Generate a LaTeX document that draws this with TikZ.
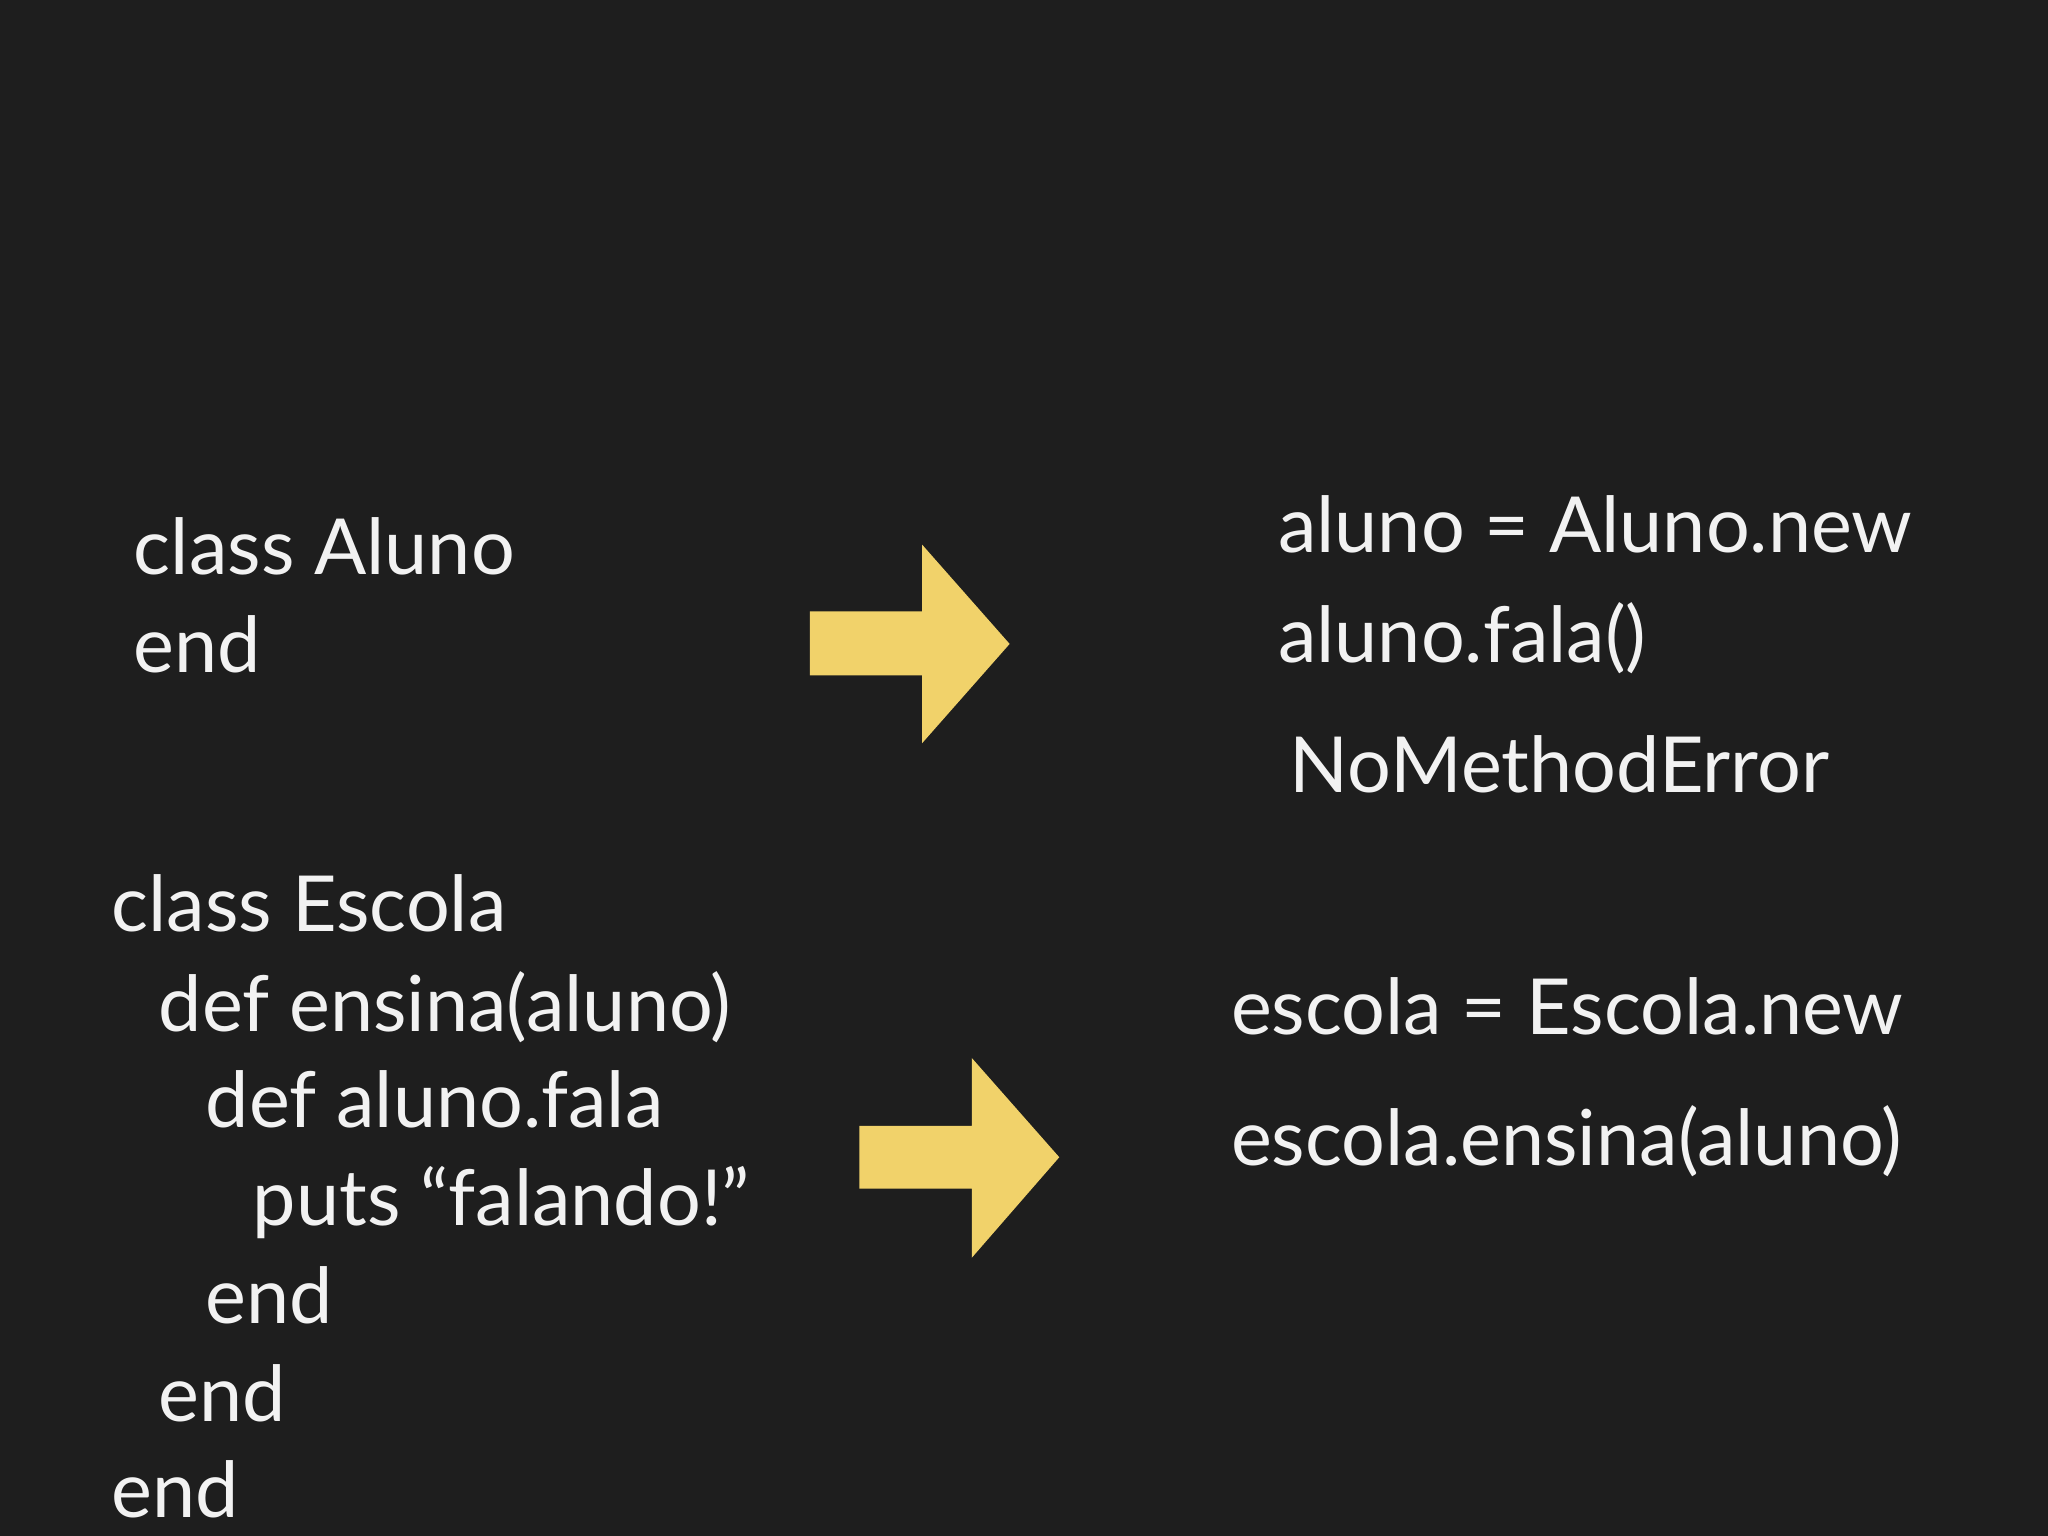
\documentclass[tikz,border=0pt]{standalone}
\usepackage{fontspec}
\setmainfont{Lato}
\definecolor{bg}{HTML}{1E1E1E}
\definecolor{fg}{HTML}{F2F2F2}
\definecolor{arr}{HTML}{F1D26A}
\begin{document}
\begin{tikzpicture}[x=0.01306cm,y=-0.01306cm,
  code/.style={anchor=base west,inner sep=0pt,text=fg,font=\fontsize{22}{26}\selectfont}]
\fill[bg] (0,0) rectangle (1568,1176);
\useasboundingbox (0,0) rectangle (1568,1176);
\node[code] (a1) at (102,440) {class Aluno};
\node[code] (a2) at (102,515) {end};
\node[code] (b1) at (978,423) {aluno = Aluno.new};
\node[code] (b2) at (978,507) {aluno.fala()};
\node[code] (b3) at (987,607) {NoMethodError};
\node[code] (c1) at (85,713) {class Escola};
\node[code] (c2) at (121,790) {def ensina(aluno)};
\node[code] (c3) at (157,863) {def aluno.fala};
\node[code] (c4) at (193,938) {puts “falando!”};
\node[code] (c5) at (157,1013) {end};
\node[code] (c6) at (121,1088) {end};
\node[code] (c7) at (85,1162) {end};
\node[code] (d1) at (942,792) {escola = Escola.new};
\node[code] (d2) at (942,892) {escola.ensina(aluno)};
\fill[arr] (620,468) -- (706,468) -- (706,417) -- (773,493) -- (706,569) -- (706,517) -- (620,517) -- cycle;
\fill[arr] (658,862) -- (744,862) -- (744,810) -- (811,886) -- (744,963) -- (744,910) -- (658,910) -- cycle;
\end{tikzpicture}
\end{document}
